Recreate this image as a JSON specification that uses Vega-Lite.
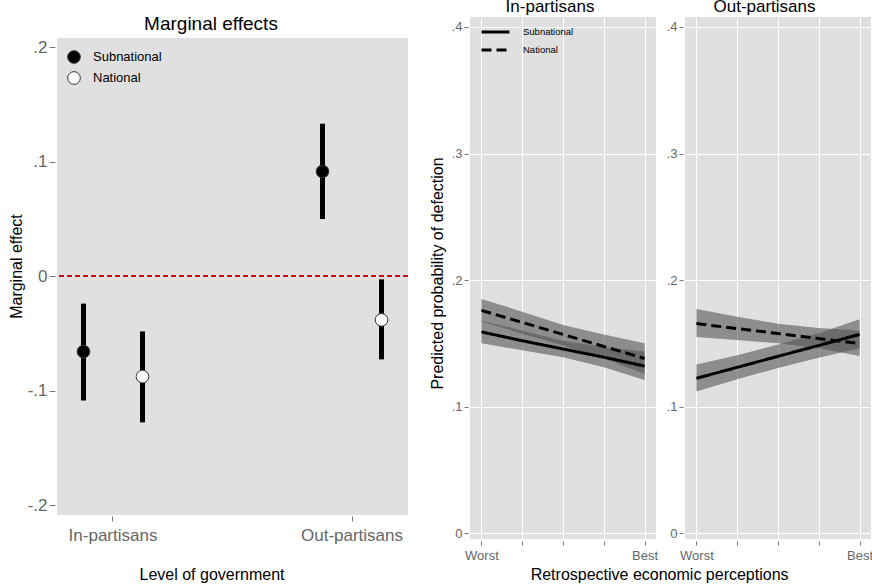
{
  "$schema": "https://vega.github.io/schema/vega-lite/v6.json",
  "background": "white",
  "padding": {"left": 8, "top": -2, "right": 0, "bottom": 0},
  "datasets": {
    "effects": [
      {"group": "In-partisans", "level": "Subnational", "est": -0.066, "lo": -0.1087, "hi": -0.0241},
      {"group": "In-partisans", "level": "National", "est": -0.0878, "lo": -0.1278, "hi": -0.0484},
      {"group": "Out-partisans", "level": "Subnational", "est": 0.0913, "lo": 0.0498, "hi": 0.133},
      {"group": "Out-partisans", "level": "National", "est": -0.0383, "lo": -0.0728, "hi": -0.0029}
    ],
    "predictions": [
      {"panel": "In-partisans", "level": "Subnational", "x": 1, "p": 0.159, "lo": 0.15, "hi": 0.168},
      {"panel": "In-partisans", "level": "Subnational", "x": 2, "p": 0.152, "lo": 0.1445, "hi": 0.16},
      {"panel": "In-partisans", "level": "Subnational", "x": 3, "p": 0.1455, "lo": 0.139, "hi": 0.152},
      {"panel": "In-partisans", "level": "Subnational", "x": 4, "p": 0.139, "lo": 0.131, "hi": 0.147},
      {"panel": "In-partisans", "level": "Subnational", "x": 5, "p": 0.132, "lo": 0.121, "hi": 0.1435},
      {"panel": "In-partisans", "level": "National", "x": 1, "p": 0.176, "lo": 0.1675, "hi": 0.185},
      {"panel": "In-partisans", "level": "National", "x": 2, "p": 0.1665, "lo": 0.1575, "hi": 0.175},
      {"panel": "In-partisans", "level": "National", "x": 3, "p": 0.157, "lo": 0.1485, "hi": 0.1645},
      {"panel": "In-partisans", "level": "National", "x": 4, "p": 0.1475, "lo": 0.138, "hi": 0.157},
      {"panel": "In-partisans", "level": "National", "x": 5, "p": 0.138, "lo": 0.126, "hi": 0.15},
      {"panel": "Out-partisans", "level": "Subnational", "x": 1, "p": 0.1223, "lo": 0.1118, "hi": 0.1333},
      {"panel": "Out-partisans", "level": "Subnational", "x": 2, "p": 0.131, "lo": 0.1215, "hi": 0.1405},
      {"panel": "Out-partisans", "level": "Subnational", "x": 3, "p": 0.1397, "lo": 0.1305, "hi": 0.149},
      {"panel": "Out-partisans", "level": "Subnational", "x": 4, "p": 0.1483, "lo": 0.1385, "hi": 0.158},
      {"panel": "Out-partisans", "level": "Subnational", "x": 5, "p": 0.157, "lo": 0.146, "hi": 0.169},
      {"panel": "Out-partisans", "level": "National", "x": 1, "p": 0.1656, "lo": 0.155, "hi": 0.177},
      {"panel": "Out-partisans", "level": "National", "x": 2, "p": 0.1616, "lo": 0.1525, "hi": 0.171},
      {"panel": "Out-partisans", "level": "National", "x": 3, "p": 0.1577, "lo": 0.15, "hi": 0.1655},
      {"panel": "Out-partisans", "level": "National", "x": 4, "p": 0.1537, "lo": 0.146, "hi": 0.162},
      {"panel": "Out-partisans", "level": "National", "x": 5, "p": 0.1498, "lo": 0.14, "hi": 0.16}
    ]
  },
  "spacing": 20,
  "resolve": {
    "scale": {"x": "independent", "y": "independent", "fill": "independent", "strokeDash": "independent"},
    "legend": {"fill": "independent", "strokeDash": "independent"}
  },
  "hconcat": [
    {
      "width": 351,
      "height": 498,
      "view": {"fill": null, "stroke": null},
      "title": {"text": "Marginal effects", "fontSize": 19, "offset": -17, "frame": "group", "dx": -21.5},
      "data": {"name": "effects"},
      "layer": [
        {
          "mark": {"type": "rect", "color": "#e0e0e0"},
          "encoding": {
            "y": {"datum": 0.2079, "type": "quantitative", "title": "Marginal effect",
              "scale": {"domain": [-0.2087, 0.2262], "nice": false, "zero": false},
              "axis": {"values": [-0.2, -0.1, 0, 0.1, 0.2], "labelExpr": "datum.value == 0 ? '0' : (datum.value < 0 ? '-' : '') + '.' + round(abs(datum.value) * 10)", "title": "Marginal effect", "titleFontSize": 16, "titlePadding": 3, "labelFontSize": 17, "labelPadding": 2, "tickSize": 6, "offset": 2, "grid": true, "gridColor": "white"}},
            "y2": {"datum": -0.2087}
          }
        },
        {
          "mark": {"type": "rule", "color": "#cc0000", "strokeDash": [5, 3], "strokeWidth": 1},
          "encoding": {
            "y": {"datum": 0, "type": "quantitative", "title": "Marginal effect"}
          }
        },
        {
          "mark": {"type": "rule", "color": "black", "strokeWidth": 5},
          "encoding": {
            "x": {"field": "group", "type": "nominal", "sort": ["In-partisans", "Out-partisans"], "scale": {"paddingInner": 0.5314, "paddingOuter": 0},
              "axis": {"title": "Level of government", "titleFontSize": 16, "titlePadding": 23, "titleX": 154.5, "labelAngle": 0, "labelFontSize": 17, "labelPadding": 6, "tickSize": 5, "offset": 1, "grid": true, "bandPosition": 0.5}},
            "xOffset": {"field": "level", "type": "nominal", "sort": ["Subnational", "National"], "scale": {"paddingInner": 0.102, "paddingOuter": 0}},
            "y": {"field": "lo", "type": "quantitative", "title": "Marginal effect"},
            "y2": {"field": "hi"}
          }
        },
        {
          "mark": {"type": "point", "filled": true, "stroke": "#333", "strokeWidth": 1, "size": 160, "opacity": 1},
          "encoding": {
            "x": {"field": "group", "type": "nominal", "sort": ["In-partisans", "Out-partisans"]},
            "xOffset": {"field": "level", "type": "nominal", "sort": ["Subnational", "National"]},
            "y": {"field": "est", "type": "quantitative", "title": "Marginal effect"},
            "fill": {"field": "level", "type": "nominal", "scale": {"domain": ["Subnational", "National"], "range": ["black", "white"]},
              "legend": {"orient": "none", "legendX": 10, "legendY": 33, "title": null, "symbolType": "circle", "symbolSize": 160, "symbolStrokeColor": "#333", "symbolStrokeWidth": 1, "labelFontSize": 13, "labelOffset": 12, "rowPadding": 3, "padding": 0}}
          }
        }
      ]
    },
    {
      "spacing": 8,
      "title": {"text": "Retrospective economic perceptions", "orient": "bottom", "fontSize": 16, "offset": 5, "dx": 101.5},
      "resolve": {
        "scale": {"x": "independent", "y": "independent", "strokeDash": "independent"},
        "legend": {"strokeDash": "independent"}
      },
      "hconcat": [
        {
          "width": 186,
          "height": 522,
          "title": {"text": "In-partisans", "fontSize": 17, "offset": 1, "frame": "group", "dx": -13},
          "data": {"name": "predictions"},
          "transform": [{"filter": "datum.panel === 'In-partisans'"}],
          "encoding": {
            "x": {"field": "x", "type": "quantitative", "scale": {"domain": [0.72, 5.28], "nice": false, "zero": false},
              "axis": {"values": [1, 2, 3, 4, 5], "labelExpr": "datum.value == 1 ? 'Worst' : datum.value == 5 ? 'Best' : ''", "title": null, "grid": true, "tickSize": 4, "offset": 2, "labelPadding": 4, "labelFontSize": 13}}
          },
          "layer": [
            {
              "mark": {"type": "area", "color": "#555", "opacity": 0.6},
              "encoding": {
                "y": {"field": "lo", "type": "quantitative", "title": "Predicted probability of defection",
                  "scale": {"domain": [-0.0047, 0.4079], "nice": false, "zero": false},
                  "axis": {"values": [0, 0.1, 0.2, 0.3, 0.4], "labelExpr": "datum.value == 0 ? '0' : (datum.value < 0 ? '-' : '') + '.' + round(abs(datum.value) * 10)", "title": "Predicted probability of defection", "titleFontSize": 16, "titlePadding": 6, "titleY": 256, "labelFontSize": 13, "labelPadding": 2, "tickSize": 4, "offset": 2, "grid": true}},
                "y2": {"field": "hi"},
                "detail": {"field": "level"}
              }
            },
            {
              "mark": {"type": "line", "color": "black", "strokeWidth": 3},
              "encoding": {
                "y": {"field": "p", "type": "quantitative", "title": "Predicted probability of defection"},
                "strokeDash": {"field": "level", "type": "nominal", "scale": {"domain": ["Subnational", "National"], "range": [[1, 0], [10, 5]]},
                  "legend": {"orient": "none", "legendX": 10, "legendY": 6, "title": null, "symbolType": "stroke", "symbolSize": 784, "symbolStrokeWidth": 3, "symbolStrokeColor": "black", "labelFontSize": 9.5, "labelOffset": 12, "clipHeight": 18, "rowPadding": 0, "padding": 0}}
              }
            }
          ]
        },
        {
          "width": 186,
          "height": 522,
          "title": {"text": "Out-partisans", "fontSize": 17, "offset": 1, "frame": "group", "dx": -13.5},
          "data": {"name": "predictions"},
          "transform": [{"filter": "datum.panel === 'Out-partisans'"}],
          "encoding": {
            "x": {"field": "x", "type": "quantitative", "scale": {"domain": [0.72, 5.28], "nice": false, "zero": false},
              "axis": {"values": [1, 2, 3, 4, 5], "labelExpr": "datum.value == 1 ? 'Worst' : datum.value == 5 ? 'Best' : ''", "title": null, "grid": true, "tickSize": 4, "offset": 2, "labelPadding": 4, "labelFontSize": 13}}
          },
          "layer": [
            {
              "mark": {"type": "area", "color": "#555", "opacity": 0.6},
              "encoding": {
                "y": {"field": "lo", "type": "quantitative",
                  "scale": {"domain": [-0.0047, 0.4079], "nice": false, "zero": false},
                  "axis": {"values": [0, 0.1, 0.2, 0.3, 0.4], "labelExpr": "datum.value == 0 ? '0' : (datum.value < 0 ? '-' : '') + '.' + round(abs(datum.value) * 10)", "title": null, "labelFontSize": 13, "labelPadding": 2, "tickSize": 4, "offset": 2, "grid": true}},
                "y2": {"field": "hi"},
                "detail": {"field": "level"}
              }
            },
            {
              "mark": {"type": "line", "color": "black", "strokeWidth": 3},
              "encoding": {
                "y": {"field": "p", "type": "quantitative", "title": null},
                "strokeDash": {"field": "level", "type": "nominal", "scale": {"domain": ["Subnational", "National"], "range": [[1, 0], [10, 5]]}, "legend": null}
              }
            }
          ]
        }
      ]
    }
  ],
  "config": {
    "font": "Liberation Sans",
    "view": {"fill": "#e0e0e0", "stroke": null},
    "axis": {"domain": false, "gridColor": "white", "gridWidth": 1, "gridOpacity": 1, "tickColor": "#777", "tickWidth": 1, "labelColor": "#666", "titleColor": "black", "titleFontWeight": "normal", "labelFont": "Liberation Sans", "titleFont": "Liberation Sans"},
    "title": {"fontWeight": "normal", "color": "black", "font": "Liberation Sans"},
    "legend": {"labelColor": "black", "labelFont": "Liberation Sans"}
  }
}
